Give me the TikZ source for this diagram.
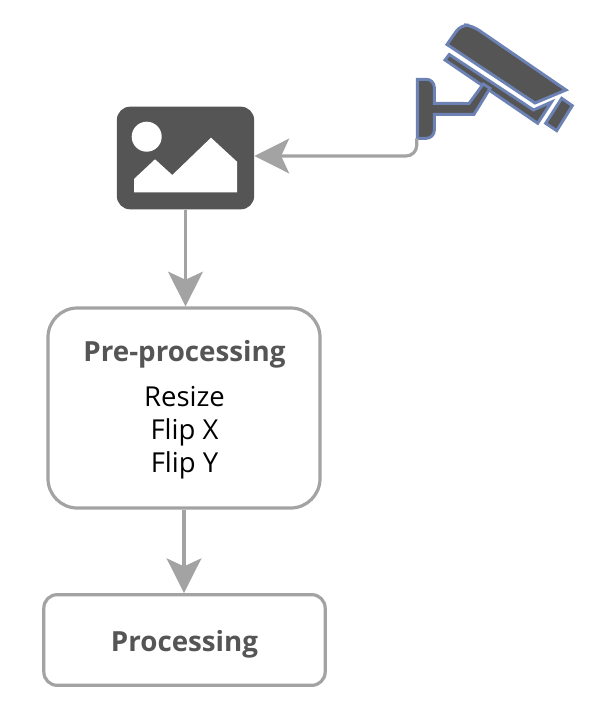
\documentclass[tikz,border=0pt]{standalone}
\usepackage{fontspec}
\setmainfont{Open Sans}
\usetikzlibrary{arrows.meta}
\definecolor{darkfill}{HTML}{555555}
\definecolor{linegray}{HTML}{A3A3A3}
\definecolor{camblue}{HTML}{6C82B4}
\tikzset{
    flowbox/.style={draw=linegray,line width=2.4pt,fill=white,inner sep=0pt},
    flowline/.style={draw=linegray,line width=2.4pt,-{Stealth[length=26pt,width=26pt,inset=6pt]}},
    titletext/.style={font=\fontsize{20.8}{24}\selectfont\bfseries,text=darkfill},
    bodytext/.style={font=\fontsize{20.6}{24.75}\selectfont,text=black,align=center},
    campart/.style={fill=darkfill,draw=camblue,line width=2.2pt,line join=miter}
}
\begin{document}
\begin{tikzpicture}[x=0.75pt,y=-0.75pt]
    \useasboundingbox (0,0) rectangle (590,720);
    % Image icon
    \node (imagebox) at (185.5,158) [fill=darkfill,rounded corners=10pt,inner sep=0pt,
        minimum width=103pt,minimum height=77pt] {};
    \fill[white] (146.7,136.7) circle [radius=15];
    \fill[white] (134,179) -- (155,159.3) -- (172.3,175) -- (211,137.7) -- (237,161.7)
        -- (237,192.3) -- (134,192.3) -- cycle;
    % Camera
    \node (camera) at (494.5,81) [inner sep=0pt,minimum width=116.25pt,minimum height=85.5pt] {};
    \filldraw[campart] (447,44.5) [rounded corners=6pt] -- (461,24.5) -- (472,25.5) [sharp corners] -- (566,90) -- (535,103) -- cycle;
    \filldraw[campart] (449.3,54.5) -- (533.5,110) -- (551.5,102) -- (537.7,123.3) -- (445,60) -- cycle;
    \filldraw[campart] (561.7,98.3) -- (572.3,105.7) -- (556.7,130.7) -- (545.7,123.3) -- cycle;
    \filldraw[campart] (417.3,79.3) [rounded corners=6pt] -- (434.3,79.3) [sharp corners] -- (434.3,103.3)
        -- (469,103.5) -- (483.3,84) -- (490,88.3) -- (474,114.3) -- (434.3,114.3) [rounded corners=6pt] -- (434.3,138.3)
        [sharp corners] -- (417.3,138.3) -- cycle;
    % Boxes
    \node (preproc) at (184,408) [flowbox,rounded corners=22pt,minimum width=204pt,minimum height=150pt] {};
    \node (preproctitle) at (184.5,354) [titletext] {Pre-processing};
    \node (preprocbody) at (184.5,433) [bodytext] {Resize\\Flip X\\Flip Y};
    \node (process) at (184.5,640) [flowbox,rounded corners=10pt,minimum width=211pt,minimum height=68pt] {};
    \node (processtitle) at (184.5,644) [titletext] {Processing};
    % Arrows
    \draw[flowline,rounded corners=8pt] (camera.south west) |- ([yshift=1.5pt]imagebox.east);
    \draw[flowline] (imagebox.south) -- (imagebox.south |- preproc.north);
    \draw[flowline] (preproc.south) -- (preproc.south |- process.north);
\end{tikzpicture}
\end{document}
